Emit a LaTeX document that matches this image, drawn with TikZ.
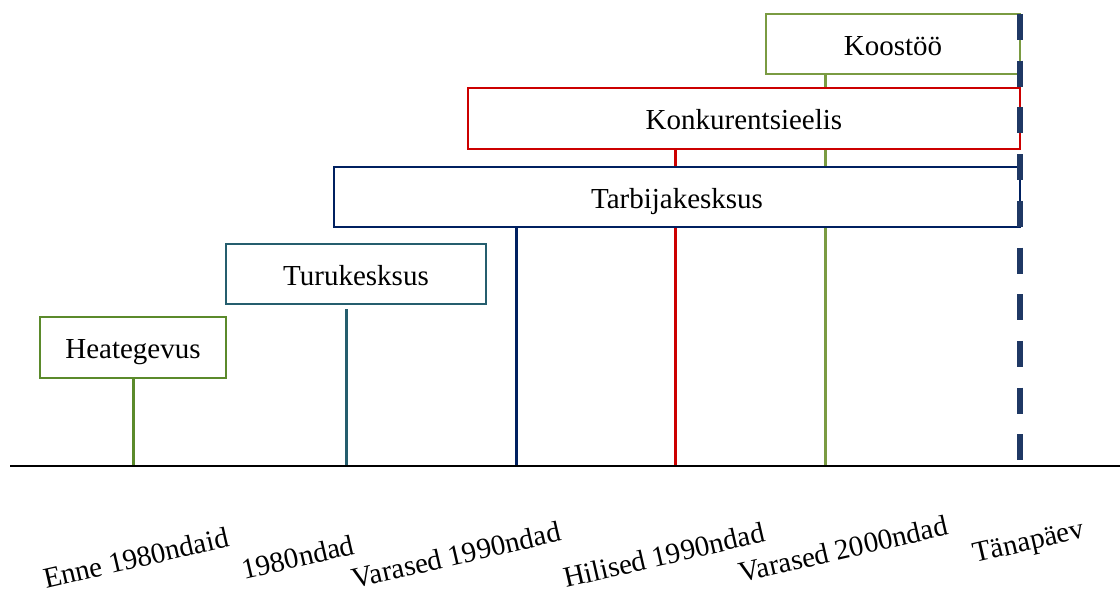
\documentclass[tikz,border=0pt]{standalone}
\usepackage{fontspec}
\setmainfont{Liberation Serif}
\usetikzlibrary{backgrounds}
\definecolor{cHeat}{HTML}{5B8A2B}
\definecolor{cTuru}{HTML}{255E6E}
\definecolor{cTarb}{HTML}{002060}
\definecolor{cKonk}{HTML}{CC0000}
\definecolor{cKoos}{HTML}{7A9B42}
\definecolor{cNow}{HTML}{1F3864}
\begin{document}
\begin{tikzpicture}[x=0.5pt,y=-0.5pt,
  every node/.style={font=\fontsize{14.5}{17}\selectfont},
  box/.style={draw,fill=white,line width=1pt,inner sep=0pt,text height=11pt,text depth=0pt},
  stem/.style={line width=1.5pt},
  era/.style={rotate=13,inner sep=0pt},
  nowline/.style={draw=cNow,line width=3pt,dash pattern=on 13pt off 10.35pt}]
\useasboundingbox (0,0) rectangle (1120,596);
% axis points
\coordinate (axL) at (10,466);
\coordinate (axR) at (1120,466);
\coordinate (a1) at (133,466);
\coordinate (a2) at (346,466);
\coordinate (a3) at (516,466);
\coordinate (a4) at (675,466);
\coordinate (a5) at (825,466);
\coordinate (t2) at (346,309);
\coordinate (nowT) at (1020,14);
\coordinate (nowB) at (1020,460);
% boxes
\node[box,draw=cHeat,minimum width=93pt,minimum height=30.5pt] (heat) at (133,347.5) {Heategevus};
\node[box,draw=cTuru,minimum width=130pt,minimum height=30pt] (turu) at (356,274) {Turukesksus};
\node[box,draw=cTarb,minimum width=343pt,minimum height=30pt] (tarb) at (677,197) {Tarbijakesksus};
\node[box,draw=cKonk,minimum width=276pt,minimum height=30.5pt] (konk) at (744,118.5) {Konkurentsieelis};
\node[box,draw=cKoos,minimum width=127pt,minimum height=30pt] (koos) at (893,44) {Koostöö};
% stems behind boxes
\begin{scope}[on background layer]
\draw[stem,cKoos] (koos.south -| a5) -- (a5);
\draw[stem,cKonk] (konk.south -| a4) -- (a4);
\draw[stem,cTarb] (tarb.south -| a3) -- (a3);
\draw[stem,cTuru] (t2) -- (a2);
\draw[stem,cHeat] (heat.south -| a1) -- (a1);
\end{scope}
% axis
\draw[line width=1pt,black] (axL) -- (axR);
% today line
\draw[nowline] (nowT) -- (nowB);
% era labels
\node[era] (l1) at (136,558) {Enne 1980ndaid};
\node[era] (l2) at (298,557) {1980ndad};
\node[era] (l3) at (456,555) {Varased 1990ndad};
\node[era] (l4) at (664,555) {Hilised 1990ndad};
\node[era] (l5) at (843,549) {Varased 2000ndad};
\node[era] (l6) at (1029,544) {Tänapäev};
\end{tikzpicture}
\end{document}
